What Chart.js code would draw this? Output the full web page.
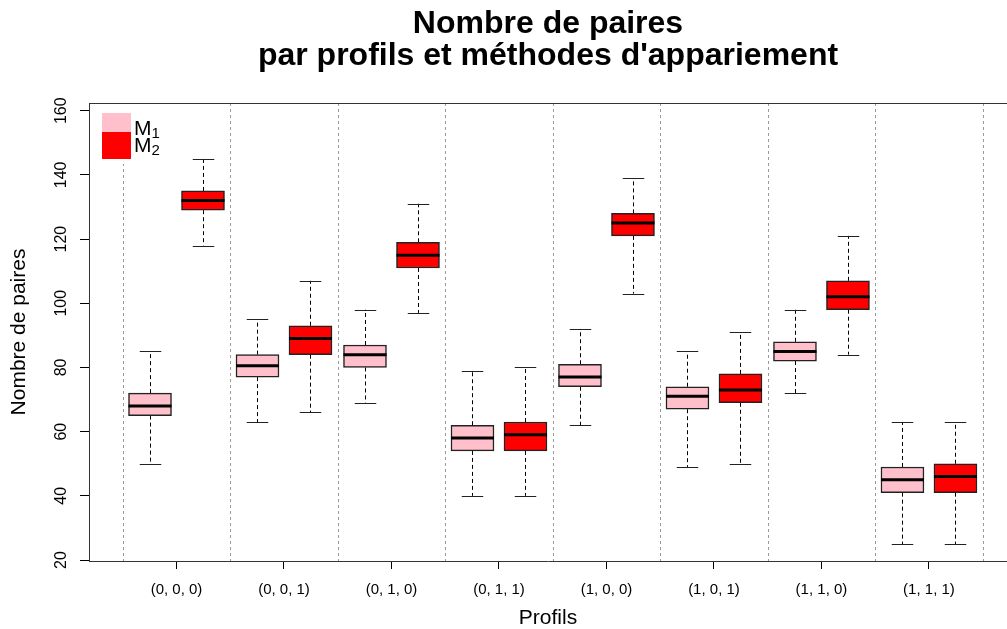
<!DOCTYPE html>
<html>
<head>
<meta charset="utf-8">
<title>Nombre de paires par profils et méthodes d'appariement</title>
<script src="https://cdn.jsdelivr.net/npm/chart.js@4.4.1/dist/chart.umd.min.js"></script>
<style>
  html, body { margin: 0; padding: 0; background: #fff; }
  #wrap { width: 1007px; height: 629px; position: relative; }
</style>
</head>
<body>
<div id="wrap"><canvas id="boxChart"></canvas></div>
<script>
// Profils on the x axis
const profils = ['(0, 0, 0)', '(0, 0, 1)', '(0, 1, 0)', '(0, 1, 1)', '(1, 0, 0)', '(1, 0, 1)', '(1, 1, 0)', '(1, 1, 1)'];

// M1 five number summaries
const m1Min = [50, 63, 69, 40, 62, 49, 72, 25];
const m1Q1  = [65, 77, 80, 54, 74, 67, 82, 41];
const m1Med = [68, 80.5, 84, 58, 77, 71, 85, 45];
const m1Q3  = [72, 84, 87, 62, 81, 74, 88, 49];
const m1Max = [85, 95, 98, 79, 92, 85, 98, 63];

// M2 five number summaries
const m2Min = [118, 66, 97, 40, 103, 50, 84, 25];
const m2Q1  = [129, 84, 111, 54, 121, 69, 98, 41];
const m2Med = [132, 89, 115, 59, 125, 73, 102, 46];
const m2Q3  = [135, 93, 119, 63, 128, 78, 107, 50];
const m2Max = [145, 107, 131, 80, 139, 91, 121, 63];

const yTicks = [20, 40, 60, 80, 100, 120, 140, 160];

const FONT = '"Liberation Sans", Arial, Helvetica, sans-serif';

const series = [
  { label: 'M', sub: '1', color: '#FFC0CB', offset: -0.2465, min: m1Min, q1: m1Q1, med: m1Med, q3: m1Q3, max: m1Max },
  { label: 'M', sub: '2', color: '#FF0000', offset: 0.2465, min: m2Min, q1: m2Q1, med: m2Med, q3: m2Q3, max: m2Max }
];

// whiskers, medians, separators, legend and rotated y labels
const boxExtras = {
  id: 'boxExtras',
  beforeDatasetsDraw(chart) {
    const { ctx, chartArea: a, scales: { x, y } } = chart;
    ctx.save();
    // dashed separators between profils
    ctx.strokeStyle = '#9a9a9a';
    ctx.lineWidth = 1;
    ctx.setLineDash([3, 3]);
    for (let i = 0; i <= profils.length; i++) {
      const px = Math.round(x.getPixelForValue(i - 0.5)) + 0.5;
      ctx.beginPath();
      ctx.moveTo(px, a.top);
      ctx.lineTo(px, a.bottom);
      ctx.stroke();
    }
    // whiskers
    series.forEach((s, d) => {
      const meta = chart.getDatasetMeta(d);
      meta.data.forEach((bar, i) => {
        const cx = Math.round(bar.x) + 0.5;
        const half = bar.width / 4;
        ctx.strokeStyle = '#000';
        ctx.lineWidth = 1;
        ctx.setLineDash([4, 3]);
        ctx.beginPath();
        ctx.moveTo(cx, y.getPixelForValue(s.q3[i]));
        ctx.lineTo(cx, y.getPixelForValue(s.max[i]));
        ctx.moveTo(cx, y.getPixelForValue(s.q1[i]));
        ctx.lineTo(cx, y.getPixelForValue(s.min[i]));
        ctx.stroke();
        ctx.setLineDash([]);
        ctx.strokeStyle = '#222';
        ctx.beginPath();
        const top = Math.round(y.getPixelForValue(s.max[i])) + 0.5;
        const bot = Math.round(y.getPixelForValue(s.min[i])) + 0.5;
        ctx.moveTo(cx - half, top); ctx.lineTo(cx + half, top);
        ctx.moveTo(cx - half, bot); ctx.lineTo(cx + half, bot);
        ctx.stroke();
      });
    });
    ctx.restore();
  },
  afterDatasetsDraw(chart) {
    const { ctx, scales: { y } } = chart;
    ctx.save();
    ctx.strokeStyle = '#000';
    ctx.lineWidth = 3;
    series.forEach((s, d) => {
      chart.getDatasetMeta(d).data.forEach((bar, i) => {
        const py = y.getPixelForValue(s.med[i]);
        ctx.beginPath();
        ctx.moveTo(bar.x - bar.width / 2, py);
        ctx.lineTo(bar.x + bar.width / 2, py);
        ctx.stroke();
      });
    });
    ctx.restore();
  },
  afterDraw(chart) {
    const { ctx, chartArea: a, scales: { y } } = chart;
    ctx.save();
    // top of the frame
    ctx.strokeStyle = '#333';
    ctx.lineWidth = 1;
    ctx.beginPath();
    ctx.moveTo(a.left, a.top + 0.5);
    ctx.lineTo(chart.width, a.top + 0.5);
    ctx.stroke();

    // y tick labels, written upward like R does
    ctx.fillStyle = '#000';
    ctx.font = '16px ' + FONT;
    ctx.textAlign = 'center';
    ctx.textBaseline = 'alphabetic';
    yTicks.forEach(v => {
      ctx.save();
      ctx.translate(66, y.getPixelForValue(v));
      ctx.rotate(-Math.PI / 2);
      ctx.fillText(String(v), 0, 0);
      ctx.restore();
    });

    // legend
    ctx.fillStyle = '#fff';
    ctx.fillRect(a.left + 2, a.top + 1, 80, 60);
    ctx.fillStyle = series[0].color;
    ctx.fillRect(102, 113, 29, 19);
    ctx.fillStyle = series[1].color;
    ctx.fillRect(102, 132, 29, 27);
    ctx.fillStyle = '#000';
    ctx.textAlign = 'left';
    [134.5, 152].forEach((base, k) => {
      ctx.font = '21px ' + FONT;
      ctx.fillText(series[k].label, 134, base);
      const w = ctx.measureText(series[k].label).width;
      ctx.font = '15px ' + FONT;
      ctx.fillText(series[k].sub, 134 + w, base + 3);
    });
    ctx.restore();
  }
};

const ctx = document.getElementById('boxChart').getContext('2d');
const boxChart = new Chart(ctx, {
  type: 'bar',
  data: {
    datasets: series.map(s => ({
      label: s.label + s.sub,
      data: profils.map((p, i) => ({ x: i + s.offset, y: [s.q1[i], s.q3[i]] })),
      backgroundColor: s.color,
      borderColor: '#222',
      borderWidth: 1.5,
      borderSkipped: false,
      barThickness: 43,
      grouped: false
    }))
  },
  options: {
    responsive: true,
    maintainAspectRatio: false,
    animation: false,
    events: [],
    layout: { padding: 0 },
    scales: {
      x: {
        type: 'linear',
        offset: false,
        min: -0.814,
        max: 7.726,
        afterBuildTicks: scale => { scale.ticks = profils.map((p, i) => ({ value: i })); },
        afterFit: scale => { scale.height = 68; },
        grid: { offset: false, drawOnChartArea: false, drawTicks: true, tickLength: 8, color: '#000' },
        border: { display: true, color: '#333', width: 1 },
        ticks: {
          autoSkip: false,
          maxRotation: 0,
          padding: 12,
          color: '#000',
          font: { family: FONT, size: 15 },
          callback: v => profils[v]
        },
        title: {
          display: true,
          text: 'Profils',
          color: '#000',
          font: { family: FONT, size: 21, lineHeight: 1 },
          padding: 0
        }
      },
      y: {
        min: 19.7,
        max: 162.4,
        afterBuildTicks: scale => { scale.ticks = yTicks.map(v => ({ value: v })); },
        afterFit: scale => { scale.width = 89; },
        grid: { drawOnChartArea: false, drawTicks: true, tickLength: 9, color: '#000' },
        border: { display: true, color: '#333', width: 1 },
        ticks: { display: false },
        title: {
          display: true,
          text: 'Nombre de paires',
          color: '#000',
          font: { family: FONT, size: 21, lineHeight: 1 },
          padding: { top: 9, bottom: 0 }
        }
      }
    },
    plugins: {
      legend: { display: false },
      tooltip: { enabled: false },
      title: {
        display: true,
        fullSize: false,
        text: ['Nombre de paires', "par profils et méthodes d'appariement"],
        color: '#000',
        font: { family: FONT, size: 32, weight: 'bold', lineHeight: 1 },
        padding: { top: 8, bottom: 31 }
      }
    }
  },
  plugins: [boxExtras]
});
</script>
</body>
</html>
